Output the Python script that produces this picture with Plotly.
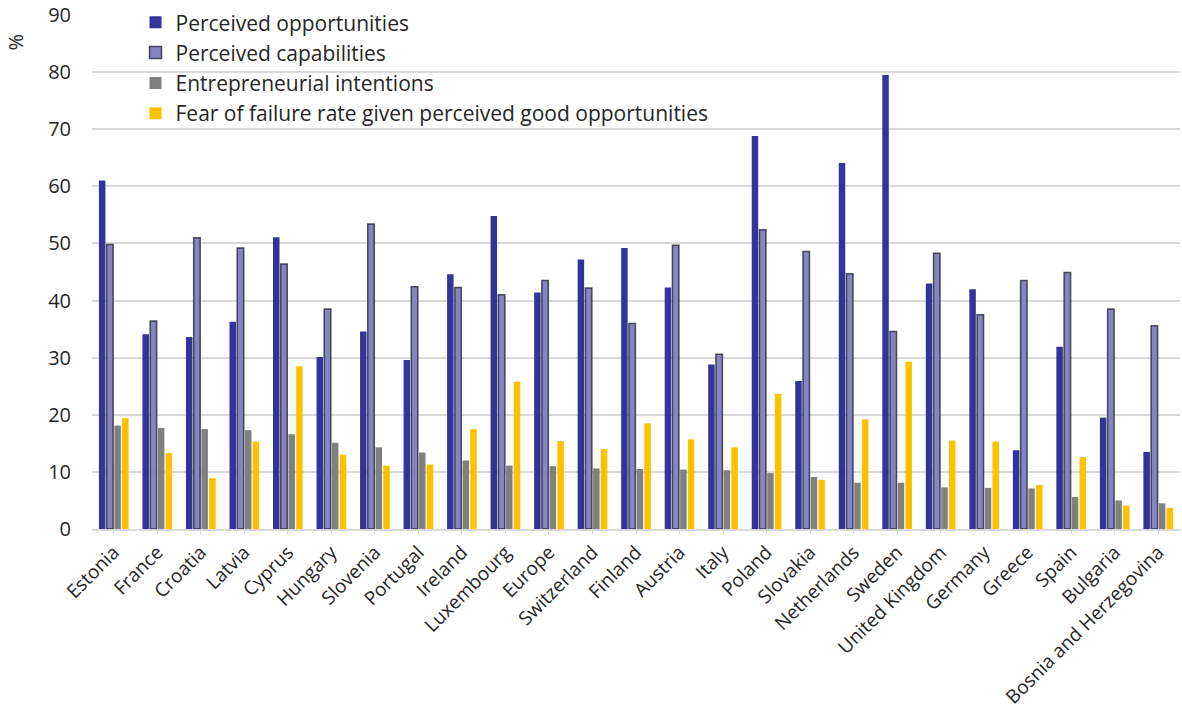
import plotly.graph_objects as go

categories = ["Estonia", "France", "Croatia", "Latvia", "Cyprus", "Hungary", "Slovenia",
              "Portugal", "Ireland", "Luxembourg", "Europe", "Switzerland", "Finland",
              "Austria", "Italy", "Poland", "Slovakia", "Netherlands", "Sweden",
              "United Kingdom", "Germany", "Greece", "Spain", "Bulgaria",
              "Bosnia and Herzegovina"]

perceived_opportunities = [61.0, 34.1, 33.6, 36.3, 51.1, 30.1, 34.6, 29.6, 44.6, 54.8,
                           41.4, 47.2, 49.2, 42.3, 28.8, 68.8, 25.9, 64.1, 79.5, 43.0,
                           42.0, 13.8, 31.9, 19.5, 13.5]
perceived_capabilities = [49.8, 36.4, 51.0, 49.2, 46.4, 38.5, 53.4, 42.4, 42.3, 41.0,
                          43.5, 42.2, 36.0, 49.7, 30.6, 52.4, 48.6, 44.7, 34.6, 48.3,
                          37.5, 43.5, 44.9, 38.5, 35.6]
entrepreneurial_intentions = [18.1, 17.7, 17.5, 17.3, 16.6, 15.1, 14.3, 13.4, 12.0, 11.1,
                              11.0, 10.6, 10.5, 10.4, 10.3, 9.8, 9.1, 8.1, 8.1, 7.3,
                              7.2, 7.1, 5.6, 5.0, 4.5]
fear_of_failure = [19.4, 13.3, 8.9, 15.3, 28.5, 13.0, 11.1, 11.3, 17.5, 25.8,
                   15.4, 14.0, 18.5, 15.7, 14.3, 23.7, 8.6, 19.2, 29.3, 15.5,
                   15.3, 7.7, 12.6, 4.1, 3.7]

series_names = ["Perceived opportunities", "Perceived capabilities",
                "Entrepreneurial intentions",
                "Fear of failure rate given perceived good opportunities"]
y_ticks = [0, 10, 20, 30, 40, 50, 60, 70, 80, 90]

font_family = "'Open Sans', Lato, sans-serif"
text_color = "#262626"

fig = go.Figure()
fig.add_trace(go.Bar(x=categories, y=perceived_opportunities, name=series_names[0],
                     marker=dict(color="#333399", line=dict(width=0)),
                     legendgroup="a"))
fig.add_trace(go.Bar(x=categories, y=perceived_capabilities, name=series_names[1],
                     marker=dict(color="#8585c2", line=dict(color="rgba(30,30,40,0.75)", width=1.5)),
                     legendgroup="b"))
fig.add_trace(go.Bar(x=categories, y=entrepreneurial_intentions, name=series_names[2],
                     marker=dict(color="#808080", line=dict(width=0)),
                     legendgroup="c"))
fig.add_trace(go.Bar(x=categories, y=fear_of_failure, name=series_names[3],
                     marker=dict(color="#ffc000", line=dict(width=0)),
                     legendgroup="d"))

fig.update_layout(
    width=1182, height=713,
    margin=dict(l=92, r=2, t=15, b=184),
    paper_bgcolor="white", plot_bgcolor="white",
    barmode="group", bargap=0.29, bargroupgap=0.16,
    font=dict(family=font_family, color=text_color),
    showlegend=True,
    legend=dict(x=0.04, y=1.025, xanchor="left", yanchor="top",
                font=dict(size=21, color=text_color, family=font_family),
                bgcolor="rgba(255,255,255,0)", tracegroupgap=0,
                itemwidth=30),
    xaxis=dict(tickangle=-45, tickfont=dict(size=19, color=text_color),
               showgrid=False, showline=True, linecolor="#d9d9d9", linewidth=1.5,
               ticks="outside", ticklen=3, tickcolor="#d9d9d9", automargin=False),
    yaxis=dict(range=[0, 90], tickvals=y_ticks, tickfont=dict(size=20, color=text_color),
               showgrid=True, gridcolor="#d9d9d9", gridwidth=1.5,
               zeroline=False, showline=False, ticks="", ticklabelstandoff=20,
               ticklabeloverflow="allow", automargin=False),
    annotations=[dict(text="%", x=-0.07, y=0.948, xref="paper", yref="paper",
                      xanchor="center", yanchor="middle",
                      showarrow=False, textangle=-90,
                      font=dict(size=20, color=text_color, family=font_family))],
)

fig.write_html("out.html", config={"displayModeBar": False},
               post_script="document.body.style.margin='0';document.body.style.overflow='hidden';")
